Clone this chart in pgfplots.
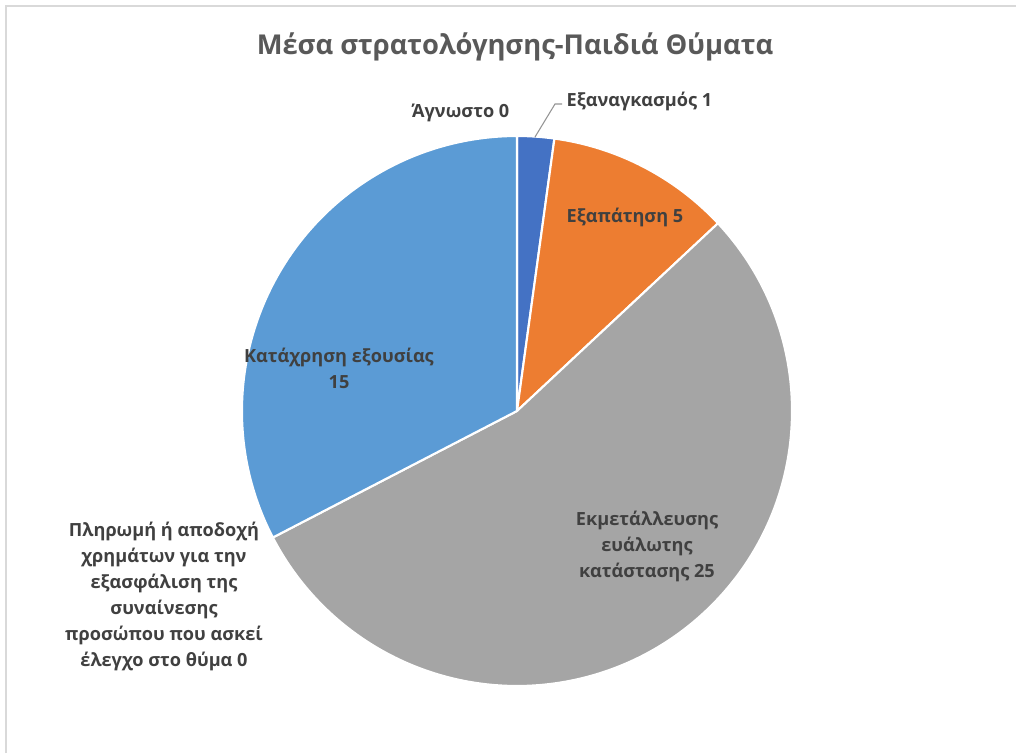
\documentclass[border=0pt]{standalone}
\usepackage{pgfplots}
\pgfplotsset{compat=1.18}
\usepackage{fontspec}
\setmainfont{Open Sans}
\definecolor{cA}{HTML}{4472C4}
\definecolor{cB}{HTML}{ED7D31}
\definecolor{cC}{HTML}{A5A5A5}
\definecolor{cD}{HTML}{FFC000}
\definecolor{cE}{HTML}{5B9BD5}
\definecolor{cF}{HTML}{70AD47}
\definecolor{txt}{HTML}{404040}
\definecolor{ttl}{HTML}{595959}
\definecolor{frame}{HTML}{D9D9D9}
% pie data: values in clockwise order from 12 o'clock (total 46)
\gdef\cum{0}
\gdef\piecmds{}
\foreach \v/\c in {1/cA,5/cB,25/cC,0/cD,15/cE,0/cF}{
  \pgfmathsetmacro\sa{90-\cum/46*360}
  \pgfmathsetmacro\cumnew{\cum+\v}
  \pgfmathsetmacro\sb{90-\cumnew/46*360}
  \ifdim \v pt>0pt
    \xdef\piecmds{\unexpanded\expandafter{\piecmds}\noexpand\fill[\c, draw=white, line width=1.6pt, line join=round]
      (axis cs:517,342) -- ++(\sa:206.25pt) arc[start angle=\sa, end angle=\sb, radius=206.25pt] -- cycle;}
  \fi
  \global\let\cum\cumnew
}
\begin{document}
\begin{tikzpicture}
\begin{axis}[x=0.75pt,y=0.75pt,xmin=0,xmax=1016,ymin=0,ymax=753,
  hide axis, clip=false, anchor=south west, at={(0,0)}]
% frame
\draw[frame, line width=1.5pt] (axis cs:6,0) -- (axis cs:6,747) -- (axis cs:1016,747);
\piecmds
% title
\node[ttl, font=\bfseries\fontsize{20.5}{24}\selectfont] at (axis cs:515,706) {Μέσα στρατολόγησης-Παιδιά Θύματα};
% leader line
\draw[color=cC!90!black, line width=0.8pt] (axis cs:535,616) -- (axis cs:555,649) -- (axis cs:562,649);
% labels
\begin{scope}[every node/.style={txt, font=\bfseries\fontsize{13.6}{19.5}\selectfont, align=center}]
\node[anchor=west] at (axis cs:562,652) {Εξαναγκασμός 1};
\node[anchor=east] at (axis cs:514,640) {Άγνωστο 0};
\node at (axis cs:625,536) {Εξαπάτηση 5};
\node at (axis cs:339,385) {Κατάχρηση εξουσίας\\15};
\node at (axis cs:647,207) {Εκμετάλλευσης\\ευάλωτης\\κατάστασης 25};
\node at (axis cs:164,157) {Πληρωμή ή αποδοχή\\χρημάτων για την\\εξασφάλιση της\\συναίνεσης\\προσώπου που ασκεί\\έλεγχο στο θύμα 0};
\end{scope}
\end{axis}
\pgfresetboundingbox
\path (0,0) rectangle (762pt,564.75pt);
\end{tikzpicture}
\end{document}
